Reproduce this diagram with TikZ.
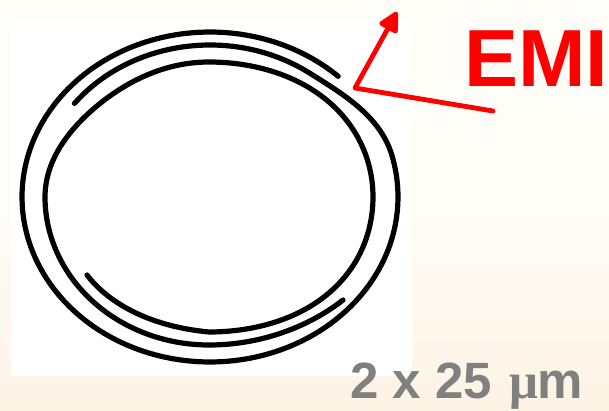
\documentclass[tikz,border=0pt]{standalone}
\usepackage{fontspec}
\setmainfont{Liberation Sans}
\newfontfamily\muserif{Liberation Serif}
\usetikzlibrary{arrows.meta}
\definecolor{bgtop}{RGB}{255,253,248}
\definecolor{bgbot}{RGB}{253,243,228}
\definecolor{lab}{RGB}{128,128,128}
\tikzset{
  coil/.style={draw=black,line width=5.2pt,line cap=round,line join=round},
  redline/.style={draw=red,line width=4.8pt,line cap=round,line join=round},
  emi/.style={text=red,font=\bfseries\fontsize{81}{81}\selectfont,inner sep=0pt,anchor=base west},
  sizelabel/.style={text=lab,font=\bfseries\fontsize{51}{51}\selectfont,inner sep=0pt,anchor=base west}
}
\begin{document}
\begin{tikzpicture}[x=1pt,y=-1pt]
\useasboundingbox (0,0) rectangle (609,411);
\shade[top color=bgtop,bottom color=bgbot,middle color=bgtop] (0,0) rectangle (609,411);
\fill[white] (11,23) rectangle (412,376);
% outer turn, then the middle turn
\draw[coil] plot[domain=47:360,samples=130,variable=\t] ({210+188*cos(\t)},{197-165*sin(\t)})
  -- plot[domain=0:142,samples=90,variable=\t] ({210+(188-16*(1-cos(180*min(1,max(0,(\t-15)/40))))/2)*cos(\t)},{197-(165-13*(1-cos(180*min(1,max(0,(\t-15)/40))))/2)*sin(\t)});
% inner turn
\draw[coil] (87,275) .. controls (106,300) and (145,326) .. (209,332)
  -- plot[domain=270:360,samples=50,variable=\t] ({209+164*(1+.02*sin(2*\t)^2)*cos(\t)},{197-135*(1+.02*sin(2*\t)^2)*sin(\t)})
  -- plot[domain=0:90,samples=50,variable=\t] ({209+164*(1+.015*sin(2*\t)^2)*cos(\t)},{197-135*(1+.015*sin(2*\t)^2)*sin(\t)})
  -- plot[domain=90:180,samples=50,variable=\t] ({209+164*(1-.04*sin(2*\t)^2)*cos(\t)},{197-135*(1-.04*sin(2*\t)^2)*sin(\t)})
  -- plot[domain=180:270,samples=50,variable=\t] ({209+164*cos(\t)},{197-148*sin(\t)})
  .. controls (262,345) and (310,326) .. (343,300);
\coordinate (a) at (493,111);
\coordinate (b) at (355,88);
\coordinate (c) at (397,12);
\draw[redline,-{Triangle[length=23pt,width=22pt,round=false]}] (a) -- (b) -- (c);
\node[emi] (emi) at (464,87) {EMI};
\node[sizelabel] (size) at (350,398) {2 x 25\hspace{17pt}{\muserif\bfseries μ}m};
\end{tikzpicture}
\end{document}
